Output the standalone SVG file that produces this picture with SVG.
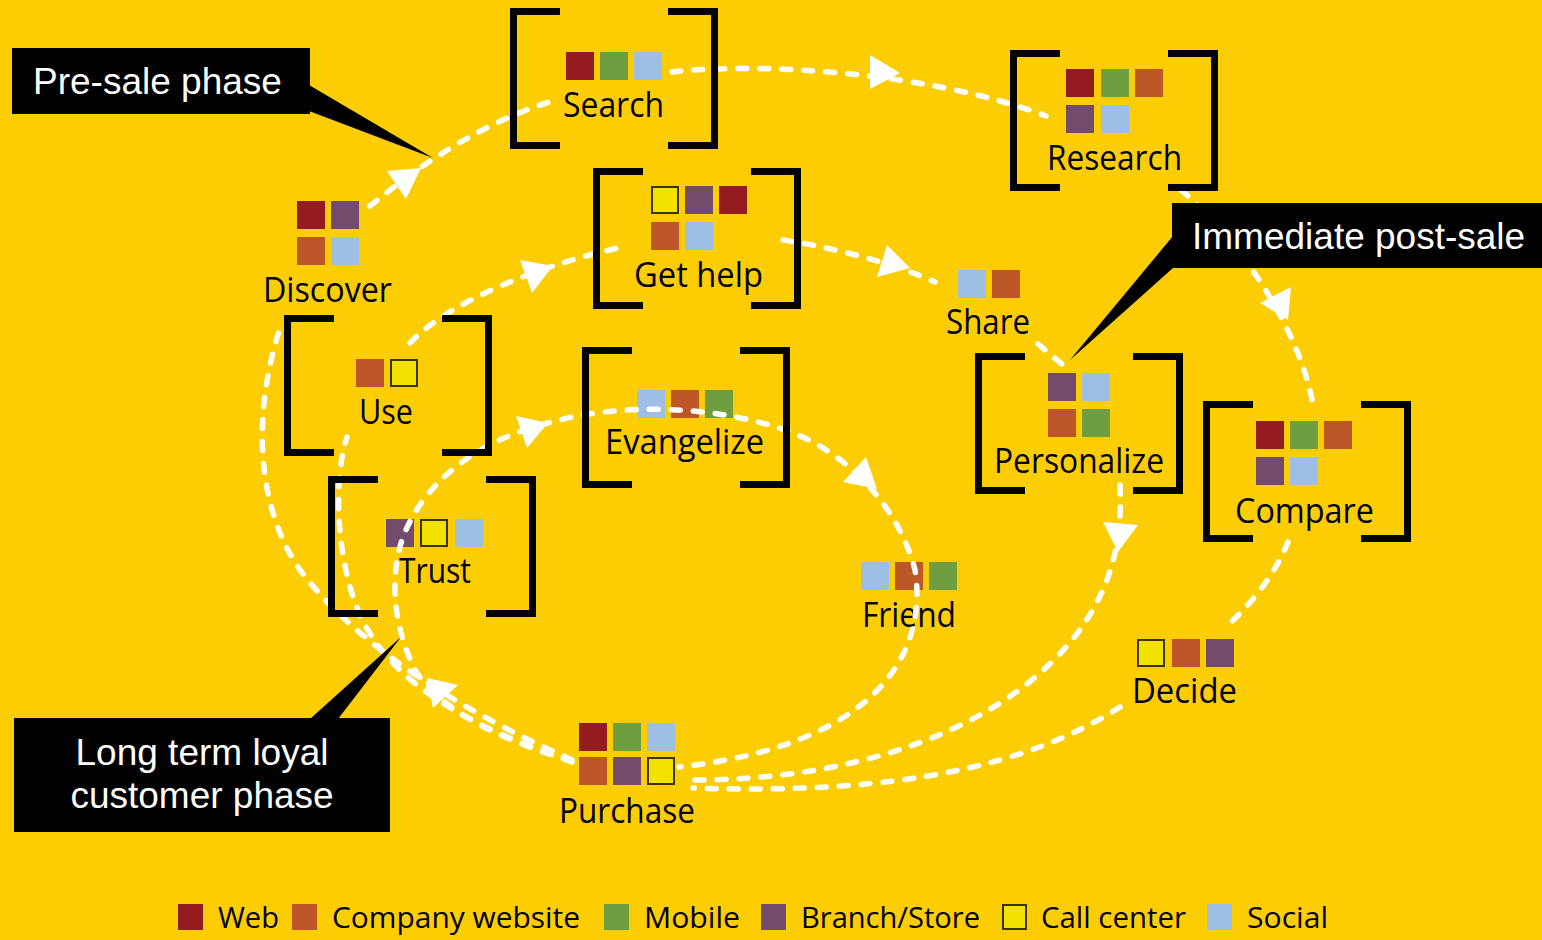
<svg xmlns="http://www.w3.org/2000/svg" xmlns:xlink="http://www.w3.org/1999/xlink" width="1542" height="940" viewBox="0 0 1542 940">
<style>
.lbl{font-family:"Open Sans","Noto Sans",sans-serif;font-size:34px;fill:#000;text-anchor:middle}
.leg{font-family:"Open Sans","Noto Sans",sans-serif;font-size:30px;fill:#000}
.cot{font-family:"Liberation Sans",Arial,sans-serif;font-size:37px;fill:#fff}
.bk{fill:none;stroke:#000;stroke-width:7}
.c{fill:none;stroke:#fff;stroke-width:5.5;stroke-dasharray:9 13;stroke-linecap:round}
.ah{fill:#fff}
.web{fill:#941B1F}
.cw{fill:#BD5628}
.mob{fill:#6E9E3F}
.brs{fill:#744C6B}
.cc{fill:#F3E100;stroke:#3B3300;stroke-width:2}
.soc{fill:#9EBFE4}
</style>
<defs>
<path id="bk" class="bk" d="M50,3.5 H3.5 V137.5 H50 M158,3.5 H204.5 V137.5 H158"/>
<rect id="sq" width="28" height="28"/>
</defs>
<rect width="1542" height="940" fill="#FDCD04"/>

<g id="node-search">
<rect class="web" x="566" y="52" width="28" height="28"/><rect class="mob" x="600" y="52" width="28" height="28"/><rect class="soc" x="634" y="52" width="28" height="28"/>
<text class="lbl" x="613.5" y="117" textLength="101" lengthAdjust="spacingAndGlyphs">Search</text>
</g>
<g id="node-research">
<rect class="web" x="1066" y="69" width="28" height="28"/><rect class="mob" x="1101" y="69" width="28" height="28"/><rect class="cw" x="1135" y="69" width="28" height="28"/>
<rect class="brs" x="1066" y="105" width="28" height="28"/><rect class="soc" x="1101" y="105" width="28" height="28"/>
<text class="lbl" x="1114.5" y="170" textLength="135" lengthAdjust="spacingAndGlyphs">Research</text>
</g>
<g id="node-discover">
<rect class="web" x="297" y="201" width="28" height="28"/><rect class="brs" x="331" y="201" width="28" height="28"/>
<rect class="cw" x="297" y="237" width="28" height="28"/><rect class="soc" x="331" y="237" width="28" height="28"/>
<text class="lbl" x="327.5" y="302" textLength="129" lengthAdjust="spacingAndGlyphs">Discover</text>
</g>
<g id="node-gethelp">
<rect class="cc" x="652" y="187" width="26" height="26"/><rect class="brs" x="685" y="186" width="28" height="28"/><rect class="web" x="719" y="186" width="28" height="28"/>
<rect class="cw" x="651" y="222" width="28" height="28"/><rect class="soc" x="685" y="222" width="28" height="28"/>
<text class="lbl" x="698.5" y="287" textLength="129" lengthAdjust="spacingAndGlyphs">Get help</text>
</g>
<g id="node-share">
<rect class="soc" x="958" y="270" width="28" height="28"/><rect class="cw" x="992" y="270" width="28" height="28"/>
<text class="lbl" x="988" y="334" textLength="84" lengthAdjust="spacingAndGlyphs">Share</text>
</g>
<g id="node-use">
<rect class="cw" x="356" y="359" width="28" height="28"/><rect class="cc" x="391" y="360" width="26" height="26"/>
<text class="lbl" x="386" y="424" textLength="54" lengthAdjust="spacingAndGlyphs">Use</text>
</g>
<g id="node-trust">
<rect class="brs" x="386" y="519" width="28" height="28"/><rect class="cc" x="421" y="520" width="26" height="26"/><rect class="soc" x="455" y="519" width="28" height="28"/>
<text class="lbl" x="435" y="583" textLength="72" lengthAdjust="spacingAndGlyphs">Trust</text>
</g>
<g id="node-evangelize">
<rect class="soc" x="637" y="390" width="28" height="28"/><rect class="cw" x="671" y="390" width="28" height="28"/><rect class="mob" x="705" y="390" width="28" height="28"/>
<text class="lbl" x="684.5" y="454" textLength="159" lengthAdjust="spacingAndGlyphs">Evangelize</text>
</g>
<g id="node-personalize">
<rect class="brs" x="1048" y="373" width="28" height="28"/><rect class="soc" x="1082" y="373" width="28" height="28"/>
<rect class="cw" x="1048" y="409" width="28" height="28"/><rect class="mob" x="1082" y="409" width="28" height="28"/>
<text class="lbl" x="1079" y="473" textLength="170" lengthAdjust="spacingAndGlyphs">Personalize</text>
</g>
<g id="node-compare">
<rect class="web" x="1256" y="421" width="28" height="28"/><rect class="mob" x="1290" y="421" width="28" height="28"/><rect class="cw" x="1324" y="421" width="28" height="28"/>
<rect class="brs" x="1256" y="457" width="28" height="28"/><rect class="soc" x="1290" y="457" width="28" height="28"/>
<text class="lbl" x="1304.5" y="523" textLength="139" lengthAdjust="spacingAndGlyphs">Compare</text>
</g>
<g id="node-friend">
<rect class="soc" x="861" y="562" width="28" height="28"/><rect class="cw" x="895" y="562" width="28" height="28"/><rect class="mob" x="929" y="562" width="28" height="28"/>
<text class="lbl" x="909" y="627" textLength="94" lengthAdjust="spacingAndGlyphs">Friend</text>
</g>
<g id="node-decide">
<rect class="cc" x="1138" y="640" width="26" height="26"/><rect class="cw" x="1172" y="639" width="28" height="28"/><rect class="brs" x="1206" y="639" width="28" height="28"/>
<text class="lbl" x="1184.5" y="703" textLength="105" lengthAdjust="spacingAndGlyphs">Decide</text>
</g>
<g id="node-purchase">
<rect class="web" x="579" y="723" width="28" height="28"/><rect class="mob" x="613" y="723" width="28" height="28"/><rect class="soc" x="647" y="723" width="28" height="28"/>
<rect class="cw" x="579" y="757" width="28" height="28"/><rect class="brs" x="613" y="757" width="28" height="28"/><rect class="cc" x="648" y="758" width="26" height="26"/>
<text class="lbl" x="627" y="823" textLength="136" lengthAdjust="spacingAndGlyphs">Purchase</text>
</g>

<g id="connectors">
<!-- pre-sale loop -->
<path class="c" d="M572,760 C470,715 360,650 300,570 C255,505 252,410 282,322"/>
<path class="c" d="M370,206 C400,182 470,125 556,100"/>
<path class="c" d="M672,72 C760,62 930,72 1046,116"/>
<path class="c" d="M1181,190 C1240,240 1300,330 1313,405"/>
<path class="c" d="M1288,542 C1275,575 1250,605 1227,626"/>
<path class="c" d="M1120,707 C1030,765 900,795 693,788"/>
<!-- post-sale loop -->
<path class="c" d="M572,762 C480,730 400,690 365,625 C340,580 330,490 347,437"/>
<path class="c" d="M410,343 C440,310 520,270 618,248"/>
<path class="c" d="M783,240 C830,247 890,262 935,282"/>
<path class="c" d="M1038,344 L1063,365"/>
<path class="c" d="M1120,485 C1124,560 1100,620 1040,673 C970,735 850,780 693,780"/>
<!-- loyal loop -->
<path class="c" d="M572,761 C500,740 440,710 415,670 C395,630 388,580 403,537 C425,480 480,440 548,423 C620,402 720,405 793,433 C850,455 900,510 915,570 C928,650 880,745 679,767"/>
<!-- arrowheads -->
<polygon class="ah" points="387,171 421,168 406,199"/>
<polygon class="ah" points="870,55 900,73 870,89"/>
<polygon class="ah" points="1260,303 1291,287 1288,320"/>
<polygon class="ah" points="520,260 553,266 532,293"/>
<polygon class="ah" points="887,245 910,268 877,277"/>
<polygon class="ah" points="1103,522 1138,525 1118,552"/>
<polygon class="ah" points="516,416 548,423 527,448"/>
<polygon class="ah" points="843,482 866,457 877,489"/>
<polygon class="ah" points="427,678 458,685 433,708"/>
</g>

<g id="frames">
<use xlink:href="#bk" x="510" y="8"/>
<use xlink:href="#bk" x="1010" y="50"/>
<use xlink:href="#bk" x="593" y="168"/>
<use xlink:href="#bk" x="284" y="315"/>
<use xlink:href="#bk" x="328" y="476"/>
<use xlink:href="#bk" x="582" y="347"/>
<use xlink:href="#bk" x="975" y="353"/>
<use xlink:href="#bk" x="1203" y="401"/>
</g>

<g id="callout-presale">
<polygon points="309,85 433,158 309,111" fill="#000"/>
<rect x="12" y="48" width="298" height="66" fill="#000"/>
<text class="cot" x="33" y="94">Pre-sale phase</text>
</g>
<g id="callout-postsale">
<polygon points="1173,236 1070,360 1173,268" fill="#000"/>
<rect x="1172" y="203" width="370" height="65" fill="#000"/>
<text class="cot" x="1192" y="249">Immediate post-sale</text>
</g>
<g id="callout-loyal">
<polygon points="310,719 401,637 338,719" fill="#000"/>
<rect x="14" y="718" width="376" height="114" fill="#000"/>
<text class="cot" x="202" y="765" text-anchor="middle">Long term loyal</text>
<text class="cot" x="202" y="808" text-anchor="middle">customer phase</text>
</g>

<g id="legend">
<rect class="web" x="178" y="904" width="25" height="26"/><text class="leg" x="218" y="928" textLength="61" lengthAdjust="spacingAndGlyphs">Web</text>
<rect class="cw" x="292" y="904" width="25" height="26"/><text class="leg" x="332" y="928" textLength="248" lengthAdjust="spacingAndGlyphs">Company website</text>
<rect class="mob" x="604" y="904" width="25" height="26"/><text class="leg" x="644" y="928" textLength="96" lengthAdjust="spacingAndGlyphs">Mobile</text>
<rect class="brs" x="761" y="904" width="25" height="26"/><text class="leg" x="801" y="928" textLength="179" lengthAdjust="spacingAndGlyphs">Branch/Store</text>
<rect class="cc" x="1003" y="905" width="23" height="24"/><text class="leg" x="1041" y="928" textLength="145" lengthAdjust="spacingAndGlyphs">Call center</text>
<rect class="soc" x="1207" y="904" width="25" height="26"/><text class="leg" x="1247" y="928" textLength="81" lengthAdjust="spacingAndGlyphs">Social</text>
</g>
</svg>
